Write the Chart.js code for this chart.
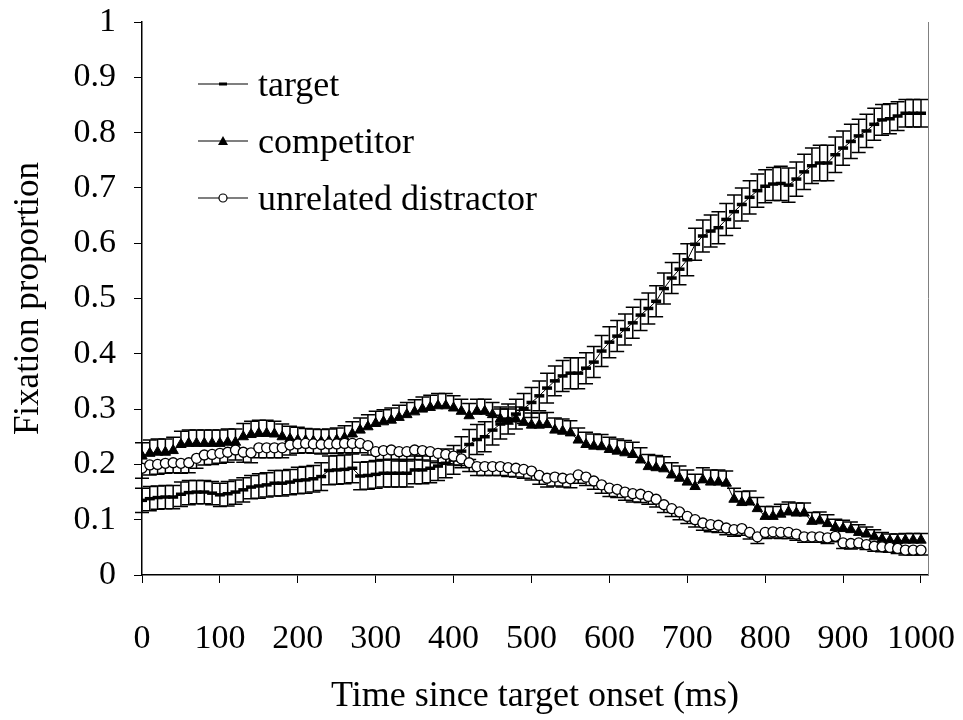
<!DOCTYPE html>
<html>
<head>
<meta charset="utf-8">
<script src="https://cdn.jsdelivr.net/npm/chart.js@4.4.1/dist/chart.umd.min.js"></script>
<style>
  html, body { margin: 0; padding: 0; background: #fff; }
  #wrap { width: 963px; height: 720px; }
</style>
</head>
<body>
<div id="wrap"><canvas id="grafica" width="963" height="720"></canvas></div>
<script>
// tiempo desde el inicio del target (ms)
const times = [
  0, 10, 20, 30, 40, 50, 60, 70, 80, 90,
  100, 110, 120, 130, 140, 150, 160, 170, 180, 190,
  200, 210, 220, 230, 240, 250, 260, 270, 280, 290,
  300, 310, 320, 330, 340, 350, 360, 370, 380, 390,
  400, 410, 420, 430, 440, 450, 460, 470, 480, 490,
  500, 510, 520, 530, 540, 550, 560, 570, 580, 590,
  600, 610, 620, 630, 640, 650, 660, 670, 680, 690,
  700, 710, 720, 730, 740, 750, 760, 770, 780, 790,
  800, 810, 820, 830, 840, 850, 860, 870, 880, 890,
  900, 910, 920, 930, 940, 950, 960, 970, 980, 990,
  1000
];

const target = [
  0.135, 0.138, 0.140, 0.141, 0.141, 0.146, 0.149, 0.150, 0.150, 0.148,
  0.145, 0.147, 0.150, 0.154, 0.159, 0.161, 0.163, 0.166, 0.166, 0.168,
  0.171, 0.172, 0.174, 0.178, 0.189, 0.190, 0.191, 0.193, 0.179, 0.180,
  0.182, 0.184, 0.184, 0.184, 0.184, 0.190, 0.190, 0.193, 0.197, 0.202,
  0.208, 0.224, 0.236, 0.245, 0.250, 0.262, 0.273, 0.282, 0.291, 0.301,
  0.312, 0.324, 0.338, 0.351, 0.360, 0.365, 0.365, 0.374, 0.385, 0.405,
  0.421, 0.432, 0.444, 0.456, 0.470, 0.482, 0.495, 0.518, 0.537, 0.553,
  0.570, 0.598, 0.613, 0.622, 0.628, 0.643, 0.657, 0.670, 0.683, 0.695,
  0.703, 0.707, 0.708, 0.705, 0.716, 0.729, 0.740, 0.745, 0.745, 0.760,
  0.772, 0.784, 0.794, 0.803, 0.815, 0.823, 0.825, 0.830, 0.835, 0.835,
  0.835
];

const competitor = [
  0.215, 0.220, 0.222, 0.222, 0.225, 0.236, 0.238, 0.238, 0.238, 0.238,
  0.238, 0.240, 0.240, 0.250, 0.254, 0.256, 0.256, 0.255, 0.250, 0.246,
  0.244, 0.243, 0.242, 0.241, 0.242, 0.244, 0.248, 0.255, 0.262, 0.268,
  0.274, 0.277, 0.280, 0.285, 0.290, 0.295, 0.300, 0.303, 0.306, 0.306,
  0.302, 0.296, 0.288, 0.296, 0.296, 0.290, 0.282, 0.278, 0.282, 0.276,
  0.271, 0.271, 0.272, 0.262, 0.260, 0.257, 0.244, 0.236, 0.233, 0.232,
  0.227, 0.224, 0.221, 0.218, 0.208, 0.196, 0.194, 0.192, 0.181, 0.175,
  0.168, 0.160, 0.172, 0.168, 0.168, 0.166, 0.137, 0.131, 0.132, 0.120,
  0.106, 0.106, 0.110, 0.114, 0.112, 0.112, 0.097, 0.098, 0.093, 0.086,
  0.084, 0.082, 0.077, 0.074, 0.069, 0.065, 0.062, 0.062, 0.063, 0.063,
  0.063
];

const unrelated = [
  0.193, 0.199, 0.200, 0.202, 0.203, 0.202, 0.203, 0.211, 0.217, 0.218,
  0.220, 0.222, 0.226, 0.222, 0.221, 0.230, 0.230, 0.230, 0.230, 0.235,
  0.237, 0.238, 0.237, 0.236, 0.237, 0.237, 0.238, 0.238, 0.238, 0.234,
  0.223, 0.225, 0.226, 0.223, 0.223, 0.226, 0.225, 0.223, 0.220, 0.218,
  0.215, 0.210, 0.203, 0.196, 0.196, 0.196, 0.196, 0.194, 0.193, 0.191,
  0.188, 0.180, 0.175, 0.177, 0.175, 0.174, 0.181, 0.177, 0.170, 0.163,
  0.157, 0.155, 0.150, 0.147, 0.146, 0.142, 0.137, 0.127, 0.120, 0.114,
  0.106, 0.100, 0.094, 0.091, 0.090, 0.085, 0.082, 0.084, 0.077, 0.069,
  0.077, 0.078, 0.077, 0.077, 0.074, 0.069, 0.069, 0.069, 0.067, 0.070,
  0.058, 0.057, 0.058, 0.055, 0.052, 0.051, 0.050, 0.048, 0.045, 0.045,
  0.045
];

// barras de error (target: +/-, competitor: solo arriba, unrelated: solo abajo)
const targetErr = [
  0.022, 0.022, 0.021, 0.021, 0.021, 0.022, 0.022, 0.021, 0.021, 0.021,
  0.021, 0.022, 0.022, 0.022, 0.021, 0.022, 0.022, 0.023, 0.023, 0.023,
  0.024, 0.024, 0.024, 0.025, 0.026, 0.026, 0.026, 0.026, 0.025, 0.025,
  0.025, 0.025, 0.025, 0.025, 0.025, 0.025, 0.025, 0.026, 0.026, 0.026,
  0.026, 0.026, 0.027, 0.027, 0.027, 0.027, 0.027, 0.027, 0.027, 0.027,
  0.027, 0.027, 0.027, 0.027, 0.028, 0.028, 0.028, 0.028, 0.028, 0.028,
  0.028, 0.028, 0.028, 0.028, 0.028, 0.028, 0.028, 0.028, 0.028, 0.028,
  0.029, 0.029, 0.029, 0.029, 0.029, 0.029, 0.030, 0.030, 0.030, 0.030,
  0.030, 0.030, 0.031, 0.031, 0.031, 0.032, 0.032, 0.032, 0.032, 0.032,
  0.031, 0.031, 0.030, 0.030, 0.029, 0.028, 0.027, 0.026, 0.025, 0.025,
  0.025
];

const competitorErr = [
  0.024, 0.024, 0.024, 0.024, 0.024, 0.024, 0.024, 0.024, 0.024, 0.024,
  0.024, 0.024, 0.024, 0.024, 0.024, 0.024, 0.024, 0.023, 0.023, 0.023,
  0.023, 0.022, 0.022, 0.022, 0.022, 0.022, 0.022, 0.022, 0.022, 0.022,
  0.022, 0.022, 0.022, 0.022, 0.022, 0.022, 0.022, 0.022, 0.022, 0.022,
  0.022, 0.022, 0.022, 0.022, 0.022, 0.022, 0.022, 0.022, 0.022, 0.022,
  0.022, 0.022, 0.022, 0.022, 0.022, 0.022, 0.022, 0.022, 0.022, 0.022,
  0.022, 0.022, 0.022, 0.022, 0.022, 0.022, 0.022, 0.022, 0.022, 0.022,
  0.022, 0.022, 0.022, 0.022, 0.022, 0.022, 0.020, 0.020, 0.020, 0.020,
  0.018, 0.018, 0.018, 0.018, 0.018, 0.018, 0.016, 0.016, 0.016, 0.015,
  0.015, 0.014, 0.014, 0.013, 0.013, 0.012, 0.012, 0.012, 0.012, 0.012,
  0.012
];

const unrelatedErr = [
  0.018, 0.018, 0.018, 0.018, 0.018, 0.018, 0.018, 0.018, 0.018, 0.018,
  0.018, 0.018, 0.018, 0.018, 0.018, 0.018, 0.018, 0.018, 0.018, 0.018,
  0.017, 0.017, 0.017, 0.017, 0.017, 0.017, 0.017, 0.017, 0.017, 0.017,
  0.017, 0.017, 0.017, 0.017, 0.017, 0.017, 0.017, 0.017, 0.017, 0.017,
  0.016, 0.016, 0.016, 0.016, 0.016, 0.016, 0.016, 0.016, 0.016, 0.016,
  0.016, 0.016, 0.016, 0.016, 0.016, 0.016, 0.015, 0.015, 0.015, 0.015,
  0.015, 0.015, 0.015, 0.015, 0.015, 0.014, 0.014, 0.014, 0.014, 0.014,
  0.013, 0.013, 0.013, 0.013, 0.013, 0.012, 0.012, 0.012, 0.012, 0.012,
  0.011, 0.011, 0.011, 0.011, 0.011, 0.010, 0.010, 0.010, 0.010, 0.010,
  0.010, 0.010, 0.009, 0.009, 0.009, 0.009, 0.009, 0.009, 0.009, 0.009,
  0.009
];

const xTicks = [0, 100, 200, 300, 400, 500, 600, 700, 800, 900, 1000];
const xTickLabels = ["0", "100", "200", "300", "400", "500", "600", "700", "800", "900", "1000"];
const yTicks = [0, 0.1, 0.2, 0.3, 0.4, 0.5, 0.6, 0.7, 0.8, 0.9, 1];
const yTickLabels = ["0", "0.1", "0.2", "0.3", "0.4", "0.5", "0.6", "0.7", "0.8", "0.9", "1"];

const seriesNames = ["target", "competitor", "unrelated distractor"];

const FONT = "'Liberation Serif', 'Times New Roman', serif";

function pares(ys) {
  return times.map((t, i) => ({ x: t, y: ys[i] }));
}

// error bars dibujadas con las escalas del grafico
const errorBars = {
  id: "errorBars",
  beforeDatasetsDraw(chart) {
    const { ctx, scales: { x, y } } = chart;
    const specs = [
      { vals: target, err: targetErr, up: true, down: true },
      { vals: competitor, err: competitorErr, up: true, down: false },
      { vals: unrelated, err: unrelatedErr, up: false, down: true }
    ];
    const cap = 7;
    ctx.save();
    ctx.strokeStyle = "#000";
    ctx.lineWidth = 1.5;
    specs.forEach(s => {
      times.forEach((t, i) => {
        const px = x.getPixelForValue(t);
        const top = y.getPixelForValue(s.vals[i] + (s.up ? s.err[i] : 0));
        const bot = y.getPixelForValue(s.vals[i] - (s.down ? s.err[i] : 0));
        ctx.beginPath();
        ctx.moveTo(px, top);
        ctx.lineTo(px, bot);
        if (s.up) { ctx.moveTo(px - cap, top); ctx.lineTo(px + cap, top); }
        if (s.down) { ctx.moveTo(px - cap, bot); ctx.lineTo(px + cap, bot); }
        ctx.stroke();
      });
    });
    ctx.restore();
  },
  afterDraw(chart) {
    const { ctx, chartArea } = chart;
    // borde derecho del area
    ctx.save();
    ctx.strokeStyle = "#808080";
    ctx.lineWidth = 1;
    ctx.beginPath();
    ctx.moveTo(chartArea.right + 0.5, chartArea.top);
    ctx.lineTo(chartArea.right + 0.5, chartArea.bottom);
    ctx.stroke();

    // leyenda
    const x0 = chartArea.left + 56;
    const rows = [chartArea.top + 62, chartArea.top + 119, chartArea.top + 176];
    ctx.strokeStyle = "#000";
    ctx.fillStyle = "#000";
    ctx.font = "36px " + FONT;
    ctx.textBaseline = "middle";
    rows.forEach((ry, i) => {
      ctx.lineWidth = 1.2;
      ctx.beginPath();
      ctx.moveTo(x0, ry);
      ctx.lineTo(x0 + 50, ry);
      ctx.stroke();
      const cx = x0 + 25;
      if (i === 0) {
        ctx.lineWidth = 3;
        ctx.beginPath();
        ctx.moveTo(cx - 4, ry);
        ctx.lineTo(cx + 4, ry);
        ctx.stroke();
      } else if (i === 1) {
        ctx.beginPath();
        ctx.moveTo(cx, ry - 5);
        ctx.lineTo(cx + 5, ry + 4);
        ctx.lineTo(cx - 5, ry + 4);
        ctx.closePath();
        ctx.fill();
      } else {
        ctx.lineWidth = 1.2;
        ctx.fillStyle = "#fff";
        ctx.beginPath();
        ctx.arc(cx, ry, 4, 0, Math.PI * 2);
        ctx.fill();
        ctx.stroke();
        ctx.fillStyle = "#000";
      }
      ctx.fillText(seriesNames[i], x0 + 60, ry + 3);
    });
    ctx.restore();
  }
};

new Chart(document.getElementById("grafica"), {
  type: "line",
  data: {
    datasets: [
      {
        label: seriesNames[0],
        data: pares(target),
        borderColor: "#000",
        borderWidth: 1,
        pointStyle: "line",
        pointRadius: 5,
        pointBorderWidth: 3.5,
        pointBorderColor: "#000",
        order: 3
      },
      {
        label: seriesNames[1],
        data: pares(competitor),
        borderColor: "#000",
        borderWidth: 1,
        pointStyle: "triangle",
        pointRadius: 6,
        pointBackgroundColor: "#000",
        pointBorderColor: "#000",
        pointBorderWidth: 1,
        order: 2
      },
      {
        label: seriesNames[2],
        data: pares(unrelated),
        borderColor: "#000",
        borderWidth: 1,
        pointStyle: "circle",
        pointRadius: 5,
        pointBackgroundColor: "#fff",
        pointBorderColor: "#000",
        pointBorderWidth: 1.3,
        order: 1
      }
    ]
  },
  options: {
    responsive: false,
    animation: false,
    devicePixelRatio: 1,
    layout: { padding: { top: 22, right: 35, left: 0, bottom: 0 } },
    plugins: { legend: { display: false }, tooltip: { enabled: false } },
    scales: {
      x: {
        type: "linear",
        min: 0,
        max: 1009,
        afterBuildTicks: axis => { axis.ticks = xTicks.map(v => ({ value: v })); },
        afterFit: axis => {
          axis.height = 145;
          axis.paddingLeft = 0; axis.paddingRight = 0;
          axis.paddingTop = 0; axis.paddingBottom = 0;
        },
        grid: { display: true, drawOnChartArea: false, tickLength: 8, color: "#000", lineWidth: 1 },
        border: { display: true, color: "#000", width: 1.5 },
        ticks: { color: "#000", font: { family: FONT, size: 34 }, padding: 36, maxRotation: 0, autoSkip: false, callback: (v, i) => xTickLabels[i] },
        title: { display: true, text: "Time since target onset (ms)", color: "#000", font: { family: FONT, size: 36 }, padding: { top: 0, bottom: 2 } }
      },
      y: {
        min: 0,
        max: 1,
        afterBuildTicks: axis => { axis.ticks = yTicks.map(v => ({ value: v })); },
        afterFit: axis => {
          axis.width = 142;
          axis.paddingLeft = 0; axis.paddingRight = 0;
          axis.paddingTop = 0; axis.paddingBottom = 0;
        },
        grid: { display: true, drawOnChartArea: false, tickLength: 8, color: "#000", lineWidth: 1 },
        border: { display: true, color: "#000", width: 1.5 },
        ticks: { color: "#000", font: { family: FONT, size: 34 }, padding: 18, callback: (v, i) => yTickLabels[i] },
        title: { display: true, text: "Fixation proportion", color: "#000", font: { family: FONT, size: 35 }, padding: { top: 8, bottom: 0 } }
      }
    }
  },
  plugins: [errorBars]
});
</script>
</body>
</html>
